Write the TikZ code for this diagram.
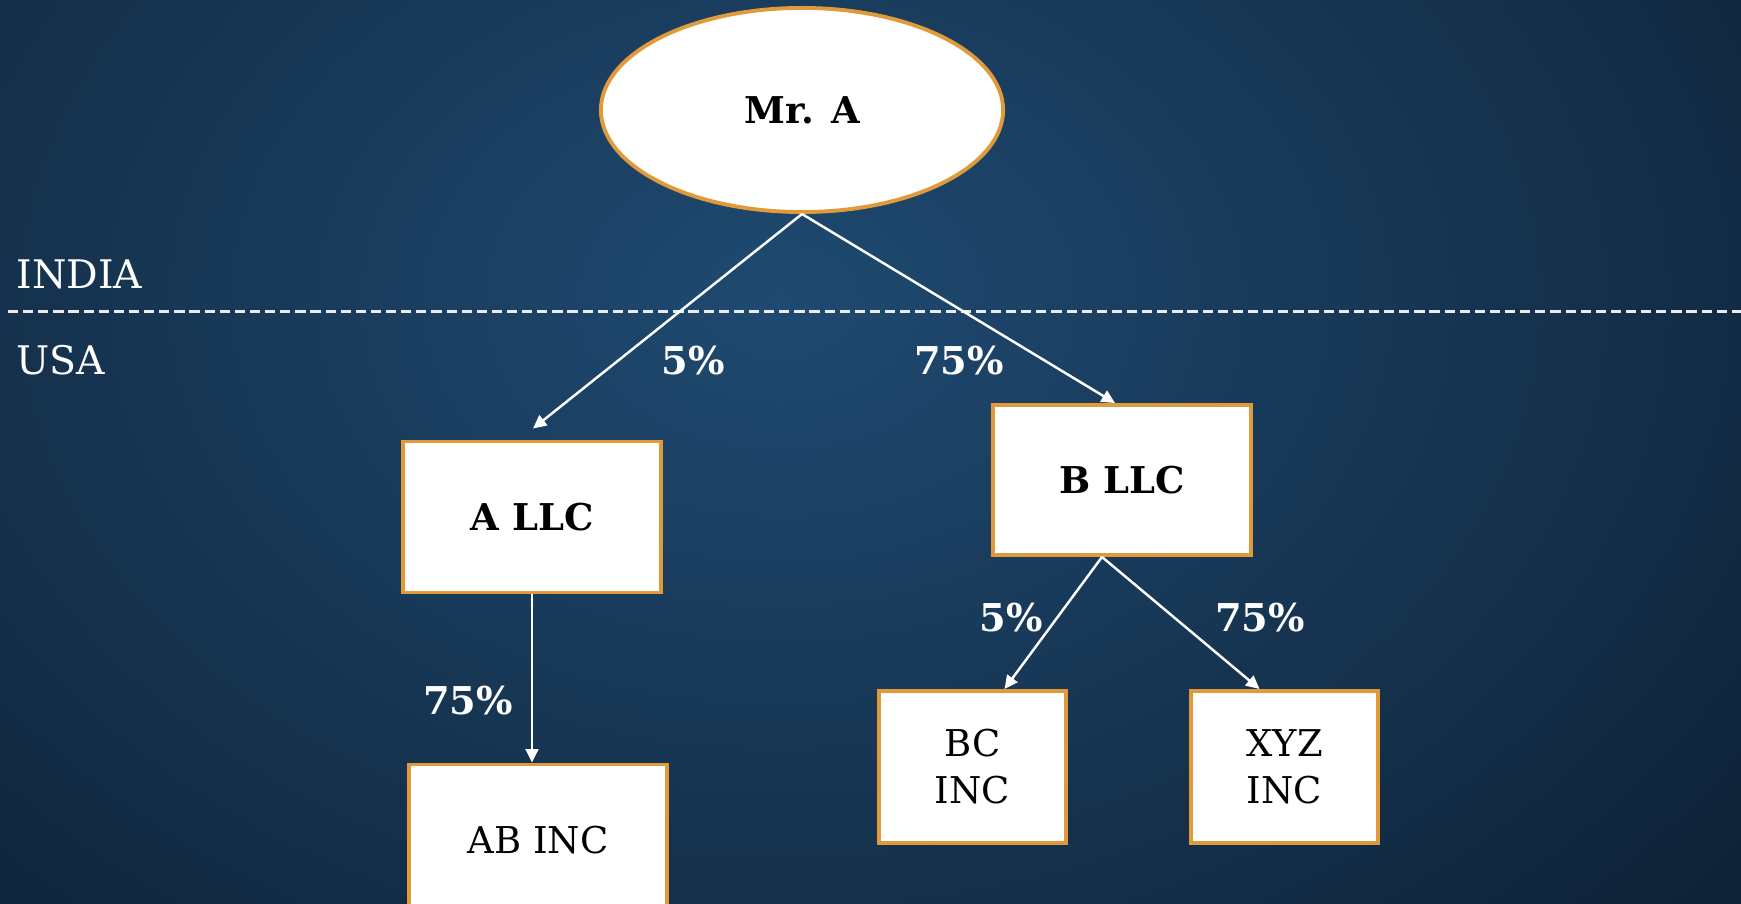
\documentclass[tikz,border=0pt]{standalone}
\usepackage{fontspec}
\setmainfont{DejaVu Serif}
\usetikzlibrary{shapes.geometric,arrows.meta,calc}

\definecolor{bgIn}{HTML}{1F4A71}
\definecolor{bgOut}{HTML}{0B1A2B}
\definecolor{frame}{HTML}{E09A3A}

\tikzset{
  entity/.style={draw=frame, line width=1.1pt, fill=white, text=black,
    rectangle, inner sep=0pt, align=center,
    font=\fontsize{10.5}{13.4}\selectfont},
  owner/.style={entity, ellipse, font=\bfseries\fontsize{10.5}{13.4}\selectfont},
  bold entity/.style={entity, font=\bfseries\fontsize{10.5}{13.4}\selectfont},
  share/.style={text=white, font=\bfseries\fontsize{10.9}{13}\selectfont, inner sep=0pt},
  country/.style={text=white, font=\fontsize{11.2}{14}\selectfont, inner sep=0pt, anchor=base west},
  link/.style={draw=white, line width=0.7pt, -{Triangle[length=3.8pt,width=3.6pt]}},
}

\begin{document}
\begin{tikzpicture}[x=0.01cm, y=-0.01cm]
  % page and background
  \clip (0,0) rectangle (1741,904);
  \shade[inner color=bgIn, outer color=bgOut] (-720,-800) rectangle (2280,1400);

  % border between the two jurisdictions
  \draw[white!92!black, line width=0.85pt, dash pattern=on 2.9pt off 1.4pt] (8,312) -- (1741,312);
  \node[country] (india) at (16,289) {INDIA};
  \node[country] (usa) at (16,375) {USA};

  % entities
  \node[owner, minimum width=4.02cm, minimum height=2.04cm] (mra) at (802,110) {Mr. A};
  \node[bold entity, minimum width=2.58cm, minimum height=1.51cm] (allc) at (532,517) {A LLC};
  \node[bold entity, minimum width=2.58cm, minimum height=1.50cm] (bllc) at (1122,480) {B LLC};
  \node[entity, minimum width=2.58cm, minimum height=1.51cm] (abinc) at (538,840) {AB INC};
  \node[entity, minimum width=1.87cm, minimum height=1.52cm] (bcinc) at (972.5,767) {BC\\INC};
  \node[entity, minimum width=1.87cm, minimum height=1.52cm] (xyzinc) at (1284.5,767) {XYZ\\INC};

  % ownership links
  \draw[link] (mra.south) -- ($(allc.north)+(1,-11)$);
  \draw[link] (mra.south) -- ($(bllc.north)+(-7,0)$);
  \draw[link] (allc.south) -- (allc.south |- abinc.north);
  \draw[link] ($(bllc.south)+(-20,0)$) -- ($(bcinc.north)+(32,0)$);
  \draw[link] ($(bllc.south)+(-20,0)$) -- ($(xyzinc.north)+(-25,0)$);

  % shareholdings
  \node[share] (s1) at (693,361) {5\%};
  \node[share] (s2) at (959,361) {75\%};
  \node[share] (s3) at (468,701) {75\%};
  \node[share] (s4) at (1011,618) {5\%};
  \node[share] (s5) at (1260,618) {75\%};
\end{tikzpicture}
\end{document}
